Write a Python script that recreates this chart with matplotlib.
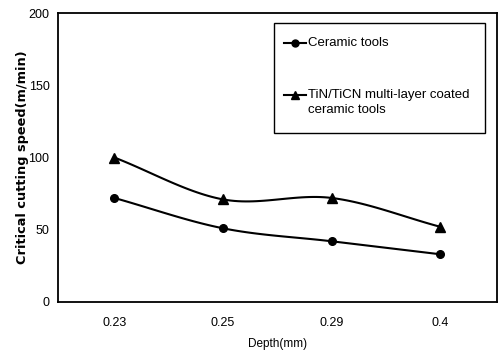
import numpy as np
import matplotlib
matplotlib.use("Agg")
import matplotlib.pyplot as plt
from matplotlib.lines import Line2D
from matplotlib.patches import Rectangle

depths = ["0.23", "0.25", "0.29", "0.4"]
ceramic = [72, 51, 42, 33]
coated = [100, 71, 72, 52]
yticks = [0, 50, 100, 150, 200]

sans = ["Liberation Sans", "DejaVu Sans"]


def smooth(x, y, n=30):
    """Catmull-Rom curve through the given points (like a spreadsheet's smoothed line)."""
    x = np.asarray(x, float)
    y = np.asarray(y, float)
    px = np.concatenate([[2 * x[0] - x[1]], x, [2 * x[-1] - x[-2]]])
    py = np.concatenate([[2 * y[0] - y[1]], y, [2 * y[-1] - y[-2]]])
    xs, ys = [], []
    t = np.linspace(0, 1, n)
    for i in range(1, len(px) - 2):
        for p, out in ((px, xs), (py, ys)):
            p0, p1, p2, p3 = p[i - 1], p[i], p[i + 1], p[i + 2]
            out.extend(0.5 * ((2 * p1) + (-p0 + p2) * t
                              + (2 * p0 - 5 * p1 + 4 * p2 - p3) * t ** 2
                              + (-p0 + 3 * p1 - 3 * p2 + p3) * t ** 3))
    return np.array(xs), np.array(ys)


fig = plt.figure(figsize=(4.99, 3.54), dpi=100)
ax = fig.add_axes([0.116, 0.147, 0.880, 0.816])

x = np.arange(len(depths))
styles = [(ceramic, "o", 5.5), (coated, "^", 6.5)]
for vals, marker, ms in styles:
    sx, sy = smooth(x, vals)
    ax.plot(sx, sy, color="black", lw=1.5)
    ax.plot(x, vals, linestyle="none", marker=marker, ms=ms, color="black")

ax.set_xlim(-0.52, 3.52)
ax.set_ylim(0, 200)
ax.set_xticks(x)
ax.set_xticklabels(depths, family=sans, fontsize=9)
ax.set_yticks(yticks)
ax.set_yticklabels([str(v) for v in yticks], family=sans, fontsize=9)
ax.tick_params(axis="y", length=0, pad=6)
ax.tick_params(axis="x", length=0, pad=11)
for s in ax.spines.values():
    s.set_linewidth(1.3)

ax.set_ylabel("Critical cutting speed(m/min)", family="DejaVu Sans",
              fontweight="bold", fontsize=9.3)
ax.yaxis.set_label_coords(-0.066, 0.5)
ax.set_xlabel("Depth(mm)", family=sans, fontsize=8.5, labelpad=6)

# boxed key in the upper right of the plot area
tr = ax.transAxes
ax.add_patch(Rectangle((0.493, 0.585), 0.48, 0.38, transform=tr,
                       facecolor="white", edgecolor="black", lw=1.0,
                       zorder=5))
key_font = dict(family=sans, fontsize=9.5, va="center", ha="left",
                transform=tr, zorder=6)
for (vals, marker, ms), yk in zip(styles, (0.896, 0.716)):
    ax.add_line(Line2D([0.516, 0.566], [yk, yk], transform=tr, color="black",
                       lw=1.5, zorder=6))
    ax.add_line(Line2D([0.541], [yk], transform=tr, color="black",
                       marker=marker, ms=ms - 0.5, zorder=6))
ax.text(0.569, 0.896, "Ceramic tools", **key_font)
ax.text(0.569, 0.716, "TiN/TiCN multi-layer coated", **key_font)
ax.text(0.569, 0.664, "ceramic tools", **key_font)

fig.savefig("out.png", dpi=100)
